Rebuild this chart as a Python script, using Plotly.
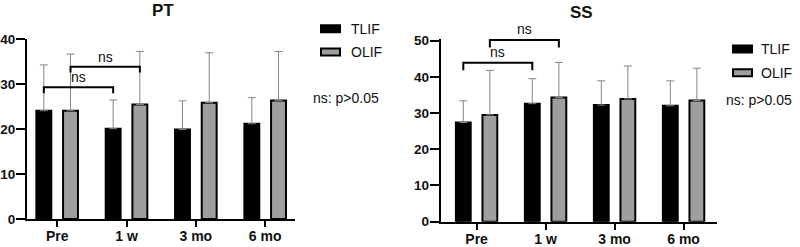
import plotly.graph_objects as go

# ---------------- data ----------------
categories = ["Pre", "1 w", "3 mo", "6 mo"]
groups = ["TLIF", "OLIF"]

pt_tlif_mean = [24.1, 20.1, 19.9, 21.2]
pt_tlif_sd = [10.2, 6.4, 6.4, 5.8]
pt_olif_mean = [24.1, 25.5, 25.9, 26.4]
pt_olif_sd = [12.6, 11.8, 11.1, 10.9]

ss_tlif_mean = [27.4, 32.6, 32.2, 32.0]
ss_tlif_sd = [6.0, 6.9, 6.7, 6.9]
ss_olif_mean = [29.5, 34.3, 33.9, 33.5]
ss_olif_sd = [12.3, 9.7, 9.1, 8.9]

pt_ticks = [0, 10, 20, 30, 40]
ss_ticks = [0, 10, 20, 30, 40, 50]

# comparisons: (group, from category, to category, bracket height, label)
pt_comparisons = [("TLIF", "Pre", "1 w", 29.3, "ns"), ("OLIF", "Pre", "1 w", 33.9, "ns")]
ss_comparisons = [("TLIF", "Pre", "1 w", 43.9, "ns"), ("OLIF", "Pre", "1 w", 50.2, "ns")]
note_text = "ns: p>0.05"

# ---------------- style ----------------
W, H = 800, 247
FONT = "Liberation Sans, Arial, sans-serif"
colors = {"TLIF": "#000000", "OLIF": "#9e9e9e"}
bar_w = 0.215
offsets = {"TLIF": -0.30, "OLIF": 0.085}
centers = {g: offsets[g] + bar_w / 2 for g in groups}
pt_range = [0, 40]
ss_range = [0, 50.6]

fig = go.Figure()

panels = [
    dict(name="PT", xa="x", ya="y", rng=pt_range,
         means={"TLIF": pt_tlif_mean, "OLIF": pt_olif_mean},
         sds={"TLIF": pt_tlif_sd, "OLIF": pt_olif_sd}, comps=pt_comparisons),
    dict(name="SS", xa="x2", ya="y2", rng=ss_range,
         means={"TLIF": ss_tlif_mean, "OLIF": ss_olif_mean},
         sds={"TLIF": ss_tlif_sd, "OLIF": ss_olif_sd}, comps=ss_comparisons),
]

for p in panels:
    for g in groups:
        fig.add_trace(go.Bar(
            x=categories, y=p["means"][g], name=g, showlegend=False,
            xaxis=p["xa"], yaxis=p["ya"],
            offset=offsets[g], width=bar_w,
            marker=dict(color=colors[g], line=dict(color="#000000", width=2)),
            error_y=dict(type="data", symmetric=False, array=p["sds"][g],
                         arrayminus=[0] * len(categories),
                         color="#858585", thickness=1, width=4),
        ))
    # significance brackets
    for g, c1, c2, h, lab in p["comps"]:
        i1 = categories.index(c1) + centers[g]
        i2 = categories.index(c2) + centers[g]
        leg = 1.3 if p["name"] == "PT" else 2.1
        fig.add_shape(type="path", xref=p["xa"], yref=p["ya"],
                      path=f"M {i1},{h - leg} L {i1},{h} L {i2},{h} L {i2},{h - leg}",
                      line=dict(color="#000000", width=2))
        dy = 2.2 if p["name"] == "PT" else 2.9
        y_dom = (h + dy - p["rng"][0]) / (p["rng"][1] - p["rng"][0])
        fig.add_annotation(x=(i1 + i2) / 2, y=y_dom, xref=p["xa"], yref=p["ya"] + " domain",
                           text=lab, showarrow=False, yanchor="middle",
                           font=dict(family=FONT, size=14, color="#111111"))

axis_common = dict(showline=True, linecolor="#000000", linewidth=2,
                   ticks="outside", tickcolor="#000000", tickwidth=2,
                   showgrid=False, zeroline=False, automargin=False)
xfont = dict(family=FONT, size=14, color="#111111", weight="bold")
yfont = dict(family=FONT, size=13.5, color="#111111", weight="bold")

fig.update_layout(
    width=W, height=H, margin=dict(l=0, r=0, t=0, b=0, autoexpand=False),
    paper_bgcolor="white", plot_bgcolor="white",
    barmode="overlay", showlegend=False,
    xaxis=dict(domain=[27 / W, 295 / W], type="category", range=[-0.435, 3.43],
               anchor="y", ticklen=6, ticklabelstandoff=-3, tickfont=xfont, **axis_common),
    yaxis=dict(domain=[1 - 219 / H, 1 - 39.3 / H], range=pt_range, tickvals=pt_ticks,
               anchor="x", ticklen=9, ticklabelstandoff=-2, tickfont=yfont, **axis_common),
    xaxis2=dict(domain=[440.7 / W, 716.7 / W], type="category", range=[-0.52, 3.48],
                anchor="y2", ticklen=6, ticklabelstandoff=-3, tickfont=xfont, **axis_common),
    yaxis2=dict(domain=[1 - 221.7 / H, 1 - 38.5 / H], range=ss_range, tickvals=ss_ticks,
                anchor="x2", ticklen=9, ticklabelstandoff=-2, tickfont=yfont, **axis_common),
)

# titles
fig.add_annotation(x=162.5 / W, y=1 - 10 / H, xref="paper", yref="paper", text="<b>PT</b>",
                   showarrow=False, xanchor="center", yanchor="middle",
                   font=dict(family=FONT, size=17, color="#111111"))
fig.add_annotation(x=581.7 / W, y=1 - 12.5 / H, xref="paper", yref="paper", text="<b>SS</b>",
                   showarrow=False, xanchor="center", yanchor="middle",
                   font=dict(family=FONT, size=17, color="#111111"))

# manual legends
legend_specs = [
    dict(x0=321, y_items=[28.7, 52.0], text_x=349, note_x=311, note_y=98),
    dict(x0=733, y_items=[49.0, 72.7], text_x=759, note_x=724, note_y=100),
]
for spec in legend_specs:
    for g, yc in zip(groups, spec["y_items"]):
        fig.add_shape(type="rect", xref="paper", yref="paper",
                      x0=spec["x0"] / W, x1=(spec["x0"] + 19) / W,
                      y0=1 - (yc + 3.5) / H, y1=1 - (yc - 3.5) / H,
                      fillcolor=colors[g], line=dict(color="#000000", width=2))
        fig.add_annotation(x=spec["text_x"] / W, y=1 - yc / H, xref="paper", yref="paper",
                           text=g, showarrow=False, xanchor="left", yanchor="middle",
                           font=dict(family=FONT, size=14, color="#111111"))
    fig.add_annotation(x=spec["note_x"] / W, y=1 - spec["note_y"] / H, xref="paper", yref="paper",
                       text=note_text, showarrow=False, xanchor="left", yanchor="middle",
                       font=dict(family=FONT, size=14, color="#111111"))

fig.write_html(
    "out.html",
    config={"displayModeBar": False},
    post_script="document.body.style.margin='0';document.body.style.overflow='hidden';",
)
